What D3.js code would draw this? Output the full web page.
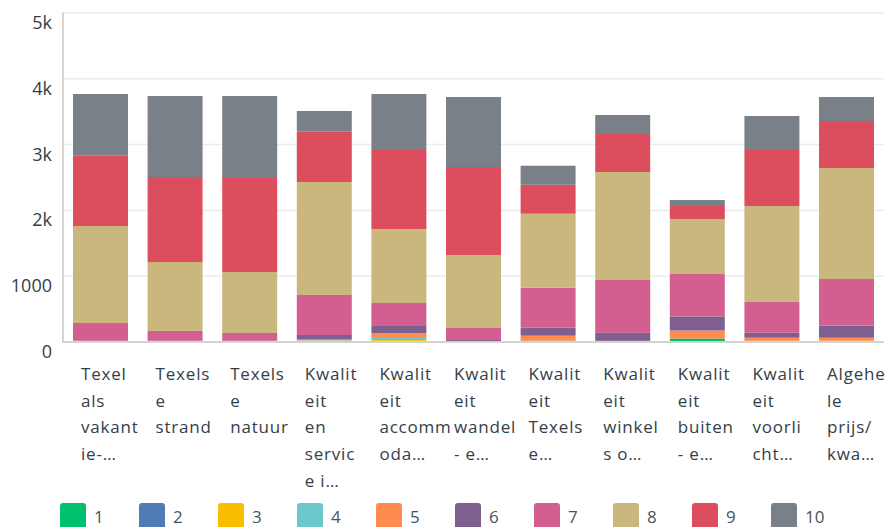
<!DOCTYPE html>
<html>
<head>
<meta charset="utf-8">
<script src="https://cdnjs.cloudflare.com/ajax/libs/d3/7.8.5/d3.min.js"></script>
<style>
  body { margin: 0; background: #fff; }
  svg { display: block; font-family: "Open Sans", sans-serif; }
</style>
</head>
<body>
<div id="chart"></div>
<script>
"use strict";
var w = 889;
var h = 527;

// category labels, already wrapped the way the chart shows them
var categories = [
    ["Texel", "als", "vakant", "ie-…"],
    ["Texels", "e", "strand"],
    ["Texels", "e", "natuur"],
    ["Kwalit", "eit", "en", "servic", "e i…"],
    ["Kwalit", "eit", "accomm", "oda…"],
    ["Kwalit", "eit", "wandel", "- e…"],
    ["Kwalit", "eit", "Texels", "e…"],
    ["Kwalit", "eit", "winkel", "s o…"],
    ["Kwalit", "eit", "buiten", "- e…"],
    ["Kwalit", "eit", "voorli", "cht…"],
    ["Algehe", "le", "prijs/", "kwa…"]
];

// rating keys (legend)
var ratings = ["1", "2", "3", "4", "5", "6", "7", "8", "9", "10"];

// counts per rating, one value per category
var r1 = [0, 0, 0, 10, 10, 0, 12, 0, 45, 0, 0];
var r2 = [0, 0, 0, 0, 0, 0, 0, 0, 0, 12, 0];
var r3 = [0, 0, 0, 0, 13, 0, 0, 0, 0, 0, 12];
var r4 = [0, 0, 0, 8, 30, 0, 0, 0, 0, 0, 0];
var r5 = [0, 0, 0, 12, 76, 8, 76, 10, 122, 45, 45];
var r6 = [12, 12, 12, 69, 107, 15, 121, 121, 213, 76, 183];
var r7 = [269, 148, 117, 608, 349, 182, 608, 804, 646, 467, 710];
var r8 = [1474, 1048, 927, 1717, 1125, 1110, 1125, 1641, 836, 1459, 1687];
var r9 = [1075, 1292, 1429, 765, 1215, 1337, 440, 577, 197, 866, 714];
var r10 = [931, 1231, 1246, 314, 836, 1064, 289, 289, 91, 502, 365];

var yTicks = [0, 1000, 2000, 3000, 4000, 5000];
var yTickLabels = ["0", "1000", "2k", "3k", "4k", "5k"];

var colors = ["#00bf6f", "#507cb6", "#f9be00", "#6bc8cd", "#ff8b4f",
              "#7f5f90", "#d25f90", "#c9b77d", "#dc4e5d", "#798088"];

var textColor = "#333e48";

function init() {
    var series = [r1, r2, r3, r4, r5, r6, r7, r8, r9, r10];

    // build rows for d3.stack
    var rows = categories.map(function(c, i) {
        var row = { idx: i };
        ratings.forEach(function(k, j) { row[k] = series[j][i]; });
        return row;
    });

    var left = 63, right = 884, top = 12.5, bottom = 341.5;

    var x = d3.scaleBand()
        .domain(d3.range(categories.length))
        .range([left, right])
        .paddingInner(0.263)
        .paddingOuter(0.134);

    var y = d3.scaleLinear()
        .domain([0, 5000])
        .range([bottom, top]);

    var color = d3.scaleOrdinal().domain(ratings).range(colors);

    var svg = d3.select("#chart")
        .append("svg")
        .attr("width", w)
        .attr("height", h);

    // gridlines + tick labels
    var yAxis = d3.axisLeft(y)
        .tickValues(yTicks)
        .tickSize(-(right - left))
        .tickPadding(11)
        .tickFormat(function(d, i) { return yTickLabels[i]; });

    var gy = svg.append("g")
        .attr("transform", "translate(" + left + ",0)")
        .call(yAxis);
    gy.select(".domain").remove();
    gy.selectAll(".tick line")
        .attr("stroke", "#ececec")
        .attr("stroke-width", 1.5);
    gy.selectAll(".tick text")
        .attr("y", 16)
        .attr("dy", 0)
        .attr("fill", textColor)
        .style("font-size", "18px")
        .style("font-family", "'Open Sans', sans-serif");

    // stacked bars
    var stack = d3.stack().keys(ratings);
    var layers = stack(rows);

    svg.append("g")
        .selectAll("g")
        .data(layers)
        .enter()
        .append("g")
        .attr("fill", function(d) { return color(d.key); })
        .selectAll("rect")
        .data(function(d) { return d; })
        .enter()
        .append("rect")
        .attr("x", function(d) { return x(d.data.idx); })
        .attr("width", x.bandwidth())
        .attr("y", function(d) { return y(d[1]); })
        .attr("height", function(d) { return y(d[0]) - y(d[1]); });

    // axis lines
    svg.append("line")
        .attr("x1", left).attr("x2", left)
        .attr("y1", top).attr("y2", bottom + 1.5)
        .attr("stroke", "#d3d3d3")
        .attr("stroke-width", 2);
    svg.append("line")
        .attr("x1", left).attr("x2", right)
        .attr("y1", bottom + 0.5).attr("y2", bottom + 0.5)
        .attr("stroke", "#d3d3d3")
        .attr("stroke-width", 2);

    // category labels
    var labels = svg.append("g")
        .selectAll("text")
        .data(categories)
        .enter()
        .append("text")
        .attr("x", function(d, i) { return x(i) + 8; })
        .attr("y", 380)
        .attr("fill", textColor)
        .style("font-size", "17px")
        .style("letter-spacing", "0.8px");
    labels.selectAll("tspan")
        .data(function(d) { return d; })
        .enter()
        .append("tspan")
        .attr("x", function() { return d3.select(this.parentNode).attr("x"); })
        .attr("dy", function(d, i) { return i === 0 ? 0 : 26.7; })
        .text(function(d) { return d; });

    // legend
    var lx = d3.scaleBand().domain(ratings).range([60, 60 + 79 * ratings.length]);
    var legend = svg.append("g")
        .selectAll("g")
        .data(ratings)
        .enter()
        .append("g")
        .attr("transform", function(d) { return "translate(" + lx(d) + ",503)"; });
    legend.append("rect")
        .attr("width", 26)
        .attr("height", 30)
        .attr("rx", 3)
        .attr("fill", function(d) { return color(d); });
    legend.append("text")
        .attr("x", 34)
        .attr("y", 20)
        .attr("fill", "#4a535b")
        .style("font-size", "17px")
        .text(function(d) { return d; });
}
window.onload = init;
</script>
</body>
</html>
